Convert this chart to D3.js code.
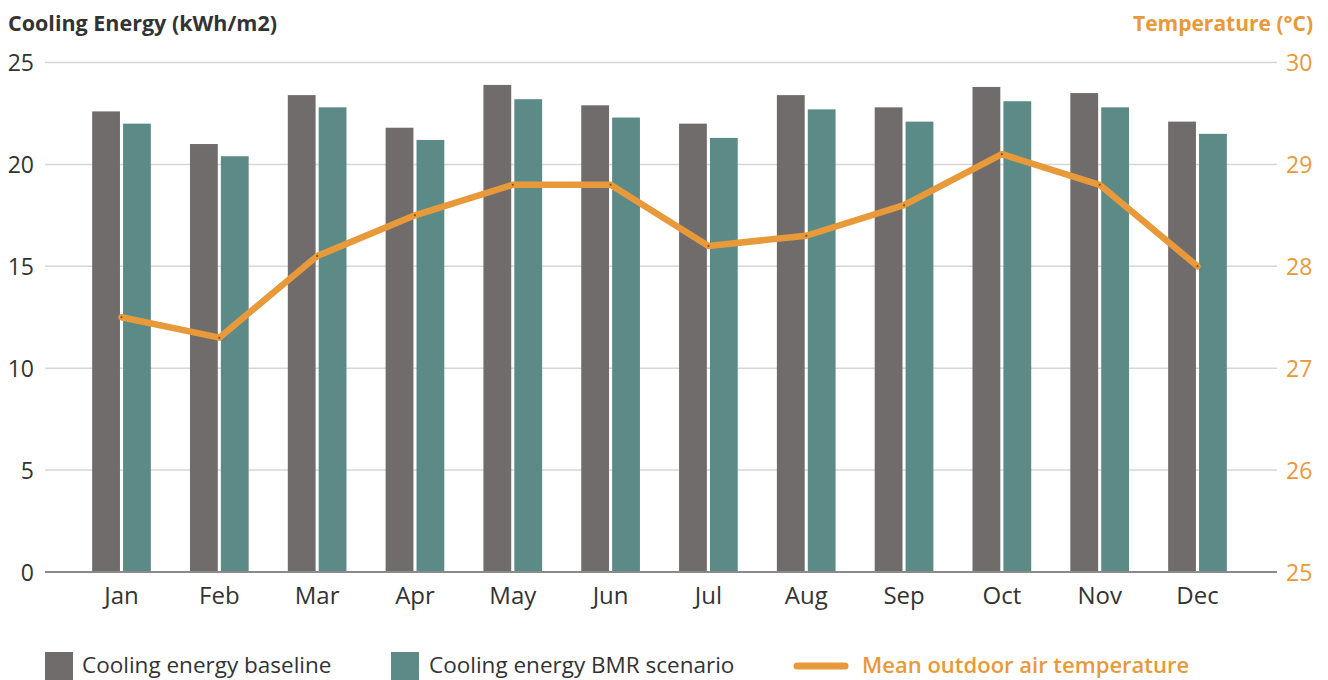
<!DOCTYPE html>
<html>
<head>
<meta charset="utf-8">
<script src="https://cdn.jsdelivr.net/npm/d3@7"></script>
<style>
  html, body { margin: 0; padding: 0; background: #fff; }
  svg { display: block; font-family: "Open Sans", "Lato", sans-serif; }
</style>
</head>
<body>
<svg id="chart" width="1328" height="680"></svg>
<script>
// Monthly cooling energy (kWh/m2) and mean outdoor air temperature (°C)
const months = ["Jan", "Feb", "Mar", "Apr", "May", "Jun", "Jul", "Aug", "Sep", "Oct", "Nov", "Dec"];
const baseline = [22.6, 21.0, 23.4, 21.8, 23.9, 22.9, 22.0, 23.4, 22.8, 23.8, 23.5, 22.1];
const bmrScenario = [22.0, 20.4, 22.8, 21.2, 23.2, 22.3, 21.3, 22.7, 22.1, 23.1, 22.8, 21.5];
const temperature = [27.5, 27.3, 28.1, 28.5, 28.8, 28.8, 28.2, 28.3, 28.6, 29.1, 28.8, 28.0];
const energyTicks = [0, 5, 10, 15, 20, 25];
const tempTicks = [25, 26, 27, 28, 29, 30];
const seriesNames = ["Cooling energy baseline", "Cooling energy BMR scenario", "Mean outdoor air temperature"];

const colors = { baseline: "#706c6b", bmr: "#5c8b87", temp: "#e8993a", text: "#333333", grid: "#d6d6d6", axis: "#8a8a8a" };
const font = "'Open Sans', sans-serif";

const svg = d3.select("#chart");
const plot = { left: 45, right: 1277, top: 62.5, bottom: 572 };

const x = d3.scaleBand().domain(months).range([72.6, 1246.4]).paddingInner(0.4).paddingOuter(0.2);
const yE = d3.scaleLinear().domain([0, 25]).range([plot.bottom, plot.top]);
const yT = d3.scaleLinear().domain([25, 30]).range([plot.bottom, plot.top]);

// Horizontal gridlines
svg.append("g").selectAll("line").data(energyTicks.filter(d => d > 0)).join("line")
  .attr("x1", plot.left).attr("x2", plot.right)
  .attr("y1", d => yE(d)).attr("y2", d => yE(d))
  .attr("stroke", colors.grid).attr("stroke-width", 1.5);

// Left axis labels
const leftAxis = d3.axisLeft(yE).tickValues(energyTicks).tickSize(0).tickPadding(0).tickFormat(d3.format("d"));
svg.append("g").attr("transform", "translate(34,0)").call(leftAxis)
  .call(g => g.select(".domain").remove())
  .selectAll("text").attr("fill", colors.text).style("font-size", "23px")
  .style("font-family", font).attr("dy", "0.35em");

// Right axis labels
const rightAxis = d3.axisRight(yT).tickValues(tempTicks).tickSize(0).tickPadding(0).tickFormat(d3.format("d"));
svg.append("g").attr("transform", "translate(1286,0)").call(rightAxis)
  .call(g => g.select(".domain").remove())
  .selectAll("text").attr("fill", colors.temp).style("font-size", "23px")
  .style("font-family", font).attr("dy", "0.35em");

// Bars
const sub = d3.scaleBand().domain(["baseline", "bmr"]).range([0, x.bandwidth()]).paddingInner(0.1);
const groups = svg.append("g").selectAll("g").data(months).join("g")
  .attr("transform", d => `translate(${x(d)},0)`);
groups.append("rect")
  .attr("x", sub("baseline")).attr("width", sub.bandwidth())
  .attr("y", (d, i) => yE(baseline[i])).attr("height", (d, i) => yE(0) - yE(baseline[i]))
  .attr("fill", colors.baseline);
groups.append("rect")
  .attr("x", sub("bmr")).attr("width", sub.bandwidth())
  .attr("y", (d, i) => yE(bmrScenario[i])).attr("height", (d, i) => yE(0) - yE(bmrScenario[i]))
  .attr("fill", colors.bmr);

// Baseline axis
svg.append("line").attr("x1", plot.left).attr("x2", plot.right)
  .attr("y1", yE(0)).attr("y2", yE(0)).attr("stroke", colors.axis).attr("stroke-width", 2);

// Month labels
const bottomAxis = d3.axisBottom(x).tickSize(0).tickPadding(0);
svg.append("g").attr("transform", "translate(0,604)").call(bottomAxis)
  .call(g => g.select(".domain").remove())
  .selectAll("text").attr("fill", colors.text).style("font-size", "24px")
  .style("font-family", font).attr("y", 0).attr("dy", 0);

// Temperature line
const line = d3.line().x((d, i) => x(months[i]) + x.bandwidth() / 2).y(d => yT(d));
svg.append("path").datum(temperature).attr("d", line)
  .attr("fill", "none").attr("stroke", colors.temp).attr("stroke-width", 6.5)
  .attr("stroke-linejoin", "round").attr("stroke-linecap", "round");
svg.append("g").selectAll("circle").data(temperature).join("circle")
  .attr("cx", (d, i) => x(months[i]) + x.bandwidth() / 2).attr("cy", d => yT(d))
  .attr("r", 1).attr("fill", "#7a4a1a");

// Axis titles
svg.append("text").attr("x", 8).attr("y", 31).text("Cooling Energy (kWh/m2)")
  .attr("fill", colors.text).style("font-size", "21.5px").style("font-weight", "700");
svg.append("text").attr("x", 1313).attr("y", 31).attr("text-anchor", "end").text("Temperature (°C)")
  .attr("fill", colors.temp).style("font-size", "21px").style("font-weight", "700");

// Legend
const legend = svg.append("g");
legend.append("rect").attr("x", 45).attr("y", 652).attr("width", 28).attr("height", 28).attr("fill", colors.baseline);
legend.append("text").attr("x", 82).attr("y", 673).text(seriesNames[0])
  .attr("fill", colors.text).style("font-size", "22.5px");
legend.append("rect").attr("x", 391).attr("y", 652).attr("width", 28).attr("height", 28).attr("fill", colors.bmr);
legend.append("text").attr("x", 429).attr("y", 673).text(seriesNames[1])
  .attr("fill", colors.text).style("font-size", "22.5px");
legend.append("line").attr("x1", 797).attr("x2", 845).attr("y1", 666).attr("y2", 666)
  .attr("stroke", colors.temp).attr("stroke-width", 7).attr("stroke-linecap", "round");
legend.append("text").attr("x", 862).attr("y", 673).text(seriesNames[2])
  .attr("fill", colors.temp).style("font-size", "22px").style("font-weight", "600");
</script>
</body>
</html>
